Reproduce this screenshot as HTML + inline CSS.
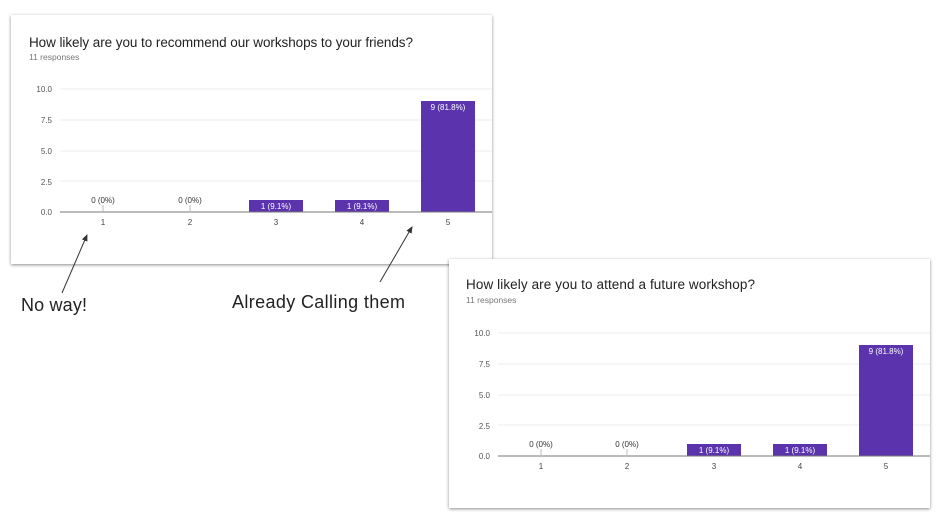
<!DOCTYPE html>
<html><head><meta charset="utf-8"><style>
html,body{margin:0;padding:0;background:#fff;width:948px;height:523px;overflow:hidden}
svg{display:block;font-family:"Liberation Sans",sans-serif}
</style></head><body>
<svg width="948" height="523" viewBox="0 0 948 523">
<defs>
<filter id="sh" x="-5%" y="-5%" width="110%" height="115%"><feDropShadow dx="0" dy="1" stdDeviation="1.5" flood-color="#000" flood-opacity="0.45"/></filter>
<marker id="ar" markerWidth="8" markerHeight="8" refX="6" refY="3" orient="auto"><path d="M0,0 L7,3 L0,6 z" fill="#333"/></marker>
</defs>
<!-- card 1 -->
<rect x="11" y="15" width="481" height="249" fill="#fff" filter="url(#sh)"/>
<text x="29" y="47" font-size="13.5" fill="#222" textLength="384">How likely are you to recommend our workshops to your friends?</text>
<text x="29" y="60" font-size="8.5" fill="#777">11 responses</text>
<g font-size="8" fill="#555" text-anchor="end">
<text x="52" y="92">10.0</text><text x="52" y="123">7.5</text><text x="52" y="154">5.0</text><text x="52" y="185">2.5</text><text x="52" y="215">0.0</text></g>
<g stroke="#eee" stroke-width="1"><line x1="60" y1="89" x2="492" y2="89"/><line x1="60" y1="120" x2="492" y2="120"/><line x1="60" y1="151" x2="492" y2="151"/><line x1="60" y1="181" x2="492" y2="181"/></g>
<rect x="249" y="200" width="54" height="12" fill="#5a33ad"/>
<rect x="335" y="200" width="54" height="12" fill="#5a33ad"/>
<rect x="421" y="101" width="54" height="111" fill="#5a33ad"/>
<line x1="60" y1="212" x2="492" y2="212" stroke="#777" stroke-width="1"/>
<line x1="103" y1="205" x2="103" y2="212" stroke="#bbb"/><line x1="190" y1="205" x2="190" y2="212" stroke="#bbb"/>
<g font-size="8" text-anchor="middle">
<text x="103" y="203" fill="#333">0 (0%)</text><text x="190" y="203" fill="#333">0 (0%)</text>
<text x="276" y="209" fill="#fff">1 (9.1%)</text><text x="362" y="209" fill="#fff">1 (9.1%)</text><text x="448" y="110" fill="#fff">9 (81.8%)</text>
<g fill="#444"><text x="103" y="225">1</text><text x="190" y="225">2</text><text x="276" y="225">3</text><text x="362" y="225">4</text><text x="448" y="225">5</text></g></g>
<!-- card 2 -->
<rect x="449" y="259" width="481" height="249" fill="#fff" filter="url(#sh)"/>
<text x="466" y="289" font-size="13.5" fill="#222" textLength="289">How likely are you to attend a future workshop?</text>
<text x="466" y="303" font-size="8.5" fill="#777">11 responses</text>
<g font-size="8" fill="#555" text-anchor="end">
<text x="490" y="336">10.0</text><text x="490" y="367">7.5</text><text x="490" y="398">5.0</text><text x="490" y="429">2.5</text><text x="490" y="459">0.0</text></g>
<g stroke="#eee" stroke-width="1"><line x1="498" y1="333" x2="930" y2="333"/><line x1="498" y1="364" x2="930" y2="364"/><line x1="498" y1="395" x2="930" y2="395"/><line x1="498" y1="425" x2="930" y2="425"/></g>
<rect x="687" y="444" width="54" height="12" fill="#5a33ad"/>
<rect x="773" y="444" width="54" height="12" fill="#5a33ad"/>
<rect x="859" y="345" width="54" height="111" fill="#5a33ad"/>
<line x1="498" y1="456" x2="930" y2="456" stroke="#777" stroke-width="1"/>
<line x1="541" y1="449" x2="541" y2="456" stroke="#bbb"/><line x1="627" y1="449" x2="627" y2="456" stroke="#bbb"/>
<g font-size="8" text-anchor="middle">
<text x="541" y="447" fill="#333">0 (0%)</text><text x="627" y="447" fill="#333">0 (0%)</text>
<text x="714" y="453" fill="#fff">1 (9.1%)</text><text x="800" y="453" fill="#fff">1 (9.1%)</text><text x="886" y="354" fill="#fff">9 (81.8%)</text>
<g fill="#444"><text x="541" y="469">1</text><text x="627" y="469">2</text><text x="714" y="469">3</text><text x="800" y="469">4</text><text x="886" y="469">5</text></g></g>
<!-- annotations -->
<line x1="62" y1="293" x2="87" y2="235" stroke="#333" stroke-width="1" marker-end="url(#ar)"/>
<line x1="380" y1="282" x2="412" y2="227" stroke="#333" stroke-width="1" marker-end="url(#ar)"/>
<text x="21" y="311" font-size="18" fill="#222" textLength="66">No way!</text>
<text x="232" y="308" font-size="18" fill="#222" textLength="173">Already Calling them</text>
</svg>
</body></html>
